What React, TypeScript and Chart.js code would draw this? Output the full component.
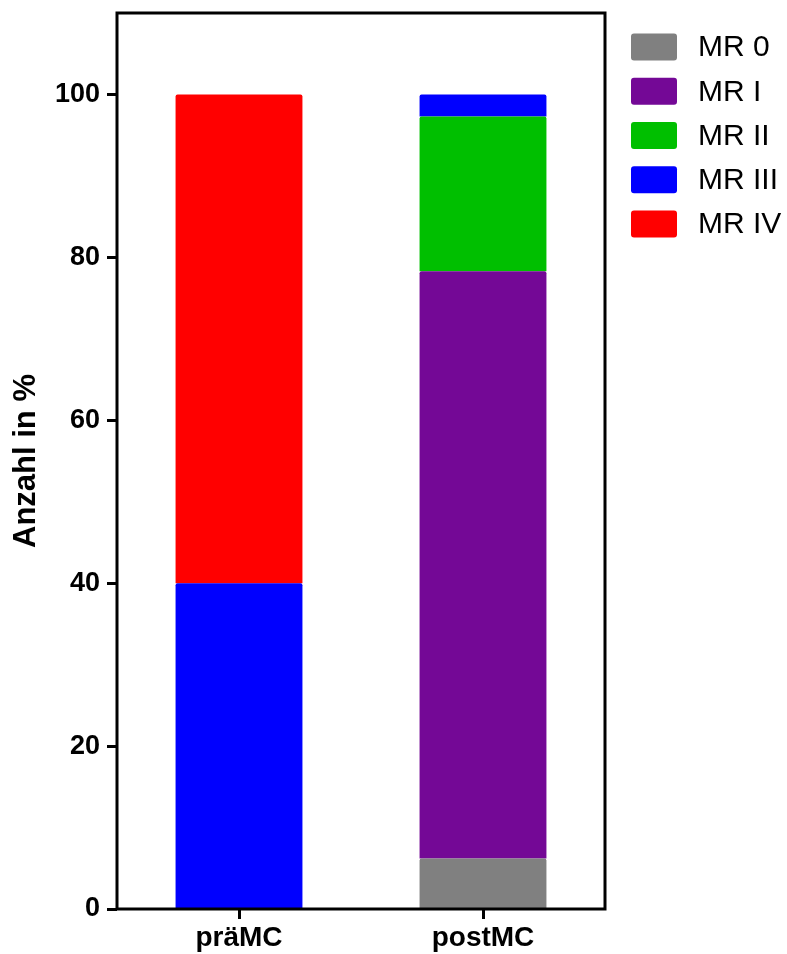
import React, { useEffect, useRef } from 'react';
import { Chart, registerables } from 'chart.js';

Chart.register(...registerables);

const categories = ['präMC', 'postMC'];
const seriesNames = ['MR 0', 'MR I', 'MR II', 'MR III', 'MR IV'];
const mr0 = [0, 6.2];
const mr1 = [0, 72.1];
const mr2 = [0, 19.0];
const mr3 = [40, 2.7];
const mr4 = [60, 0];
const seriesColors = ['#808080', '#740896', '#00BF00', '#0000FF', '#FF0000'];
const yTickValues = [0, 20, 40, 60, 80, 100];
const yTitle = 'Anzahl in %';

const FONT = "'Liberation Sans', Arial, Helvetica, sans-serif";

const framePlugin = {
  id: 'frame',
  afterDatasetsDraw(chart: any) {
    const { ctx, chartArea } = chart;
    ctx.save();
    ctx.strokeStyle = '#000';
    ctx.lineWidth = 3;
    ctx.strokeRect(chartArea.left, chartArea.top, chartArea.right - chartArea.left, chartArea.bottom - chartArea.top);
    ctx.restore();
  },
};

const legendPlugin = {
  id: 'customLegend',
  afterDraw(chart: any) {
    const { ctx, chartArea } = chart;
    ctx.save();
    const x0 = chartArea.right + 26;
    const y0 = chartArea.top + 34;
    const step = 44.25;
    chart.data.datasets.forEach((ds: any, i: number) => {
      const y = y0 + i * step;
      ctx.fillStyle = ds.backgroundColor;
      ctx.beginPath();
      if ((ctx as any).roundRect) (ctx as any).roundRect(x0, y - 13.5, 46, 27, 3);
      else ctx.rect(x0, y - 13.5, 46, 27);
      ctx.fill();
      ctx.fillStyle = '#000';
      ctx.font = `30px ${FONT}`;
      ctx.textAlign = 'left';
      ctx.textBaseline = 'middle';
      ctx.fillText(ds.label, x0 + 67, y + 1);
    });
    ctx.restore();
  },
};

export default function App() {
  const ref = useRef<HTMLCanvasElement | null>(null);

  useEffect(() => {
    document.body.style.margin = '0';
    const canvas = ref.current;
    if (!canvas) return;
    const seriesData = [mr0, mr1, mr2, mr3, mr4];
    const chart = new Chart(canvas, {
      type: 'bar',
      data: {
        labels: categories,
        datasets: seriesNames.map((name, i) => ({
          label: name,
          data: seriesData[i],
          backgroundColor: seriesColors[i],
          borderWidth: 0,
          borderRadius: { topLeft: 2, topRight: 2, bottomLeft: 0, bottomRight: 0 },
          borderSkipped: false,
          categoryPercentage: 1,
          barPercentage: 0.52,
        })),
      },
      options: {
        animation: false,
        responsive: false,
        layout: { padding: { top: 13, right: 182, left: 0, bottom: 0 } },
        plugins: {
          legend: { display: false },
          tooltip: { enabled: false },
        },
        scales: {
          x: {
            stacked: true,
            offset: true,
            border: { display: false },
            grid: {
              offset: false,
              drawOnChartArea: false,
              drawTicks: true,
              tickLength: 10,
              tickWidth: 3,
              tickColor: '#000',
            },
            ticks: {
              color: '#000',
              padding: 2,
              font: { family: FONT, size: 28, weight: 'bold' },
              maxRotation: 0,
            },
            afterFit: (s: any) => {
              s.height = 45;
              s.paddingLeft = 0;
              s.paddingRight = 0;
            },
          },
          y: {
            stacked: true,
            min: 0,
            max: 110,
            border: { display: false },
            grid: {
              drawOnChartArea: false,
              drawTicks: true,
              tickLength: 10,
              tickWidth: 3,
              tickColor: '#000',
            },
            afterBuildTicks: (s: any) => {
              s.ticks = yTickValues.map((v) => ({ value: v }));
            },
            ticks: {
              color: '#000',
              padding: 7,
              font: { family: FONT, size: 27, weight: 'bold' },
            },
            title: {
              display: true,
              text: yTitle,
              color: '#000',
              padding: { top: 8, bottom: 0 },
              font: { family: FONT, size: 31, weight: 'bold' },
            },
            afterFit: (s: any) => {
              s.width = 117;
              s.paddingTop = 0;
              s.paddingBottom = 0;
            },
          },
        },
      },
      plugins: [framePlugin, legendPlugin],
    });
    return () => chart.destroy();
  }, []);

  return (
    <div style={{ position: 'absolute', left: 0, top: 0, width: 787, height: 954 }}>
      <canvas ref={ref} width={787} height={954} style={{ display: 'block' }} />
    </div>
  );
}
